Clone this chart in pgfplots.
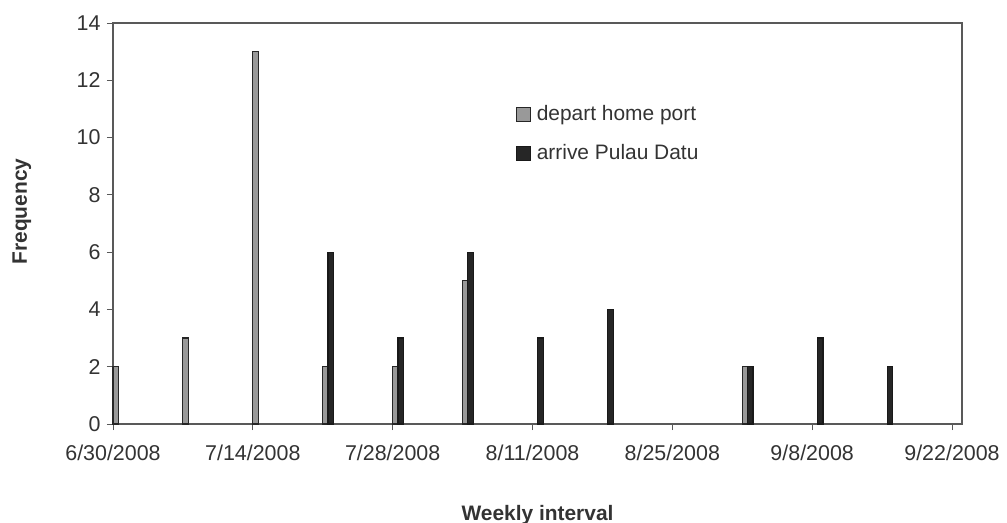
\documentclass[border=0pt]{standalone}
\usepackage{fontspec}
\setmainfont{Liberation Sans}
\usepackage{pgfplots}
\usepackage{pgfplotstable}
\pgfplotsset{compat=1.18}
\usetikzlibrary{calc}

% days counted from 6/30/2008
\pgfplotstableread{
day depart
0 2
7 3
14 13
21 2
28 2
35 5
63 2
}\departtable
\pgfplotstableread{
day arrive
21 6
28 3
35 6
42 3
49 4
63 2
70 3
77 2
}\arrivetable

\definecolor{frame}{gray}{0.35}
\definecolor{txt}{gray}{0.2}

\begin{document}
\begin{tikzpicture}
\begin{axis}[
  scale only axis, width=849bp, height=401bp,
  xmin=0, xmax=85, ymin=0, ymax=14,
  xtick={0,14,...,84},
  xticklabels={6/30/2008,7/14/2008,7/28/2008,8/11/2008,8/25/2008,9/8/2008,9/22/2008},
  ytick={0,2,...,14},
  tick align=outside, xtick pos=bottom, ytick pos=left,
  major tick length=6bp,
  axis line style={draw=frame, line width=1.1bp},
  tick style={draw=frame, line width=0.9bp},
  /pgf/number format/assume math mode=true,
  tick label style={font=\fontsize{21.5}{25}\selectfont, text=txt},
  yticklabel style={xshift=-3bp},
  xticklabel style={yshift=-11bp},
  xlabel={Weekly interval}, ylabel={Frequency},
  label style={font=\fontsize{21}{25}\selectfont\bfseries, text=txt},
  xlabel style={at={(axis description cs:0.5,0)}, anchor=base, yshift=-96bp},
  % the label is rotated, so its own y direction points left
  ylabel style={at={(axis description cs:0,0.53)}, anchor=base, yshift=86bp},
  legend style={at={(0.474,0.80)}, anchor=north west, draw=none, fill=none,
    inner sep=0pt, row sep=16bp, column sep=4bp,
    font=\fontsize{21}{25}\selectfont, text=txt,
    nodes={inner sep=2bp, text height=15bp, text depth=4bp}},
  legend cell align=left,
  clip=false,
]
\addplot[ybar, bar width=0.55, bar shift=0.27, fill=black!40, draw=black!85, line width=1.2bp,
  legend image code/.code={\draw[fill=black!40, draw=black!85, line width=1.2bp] (0bp,-7bp) rectangle (14bp,7bp);}]
  table[x=day, y=depart] {\departtable};
\addlegendentry{depart home port}
\addplot[ybar, bar width=0.55, bar shift=0.80, fill=black!85, draw=black!90, line width=1.2bp,
  legend image code/.code={\draw[fill=black!85, draw=black!90, line width=1.2bp] (0bp,-7bp) rectangle (14bp,7bp);}]
  table[x=day, y=arrive] {\arrivetable};
\addlegendentry{arrive Pulau Datu}
\end{axis}
\pgfresetboundingbox
\useasboundingbox ($(current axis.south west)+(-113bp,-99bp)$) rectangle ($(current axis.north east)+(45bp,23bp)$);
\end{tikzpicture}
\end{document}
